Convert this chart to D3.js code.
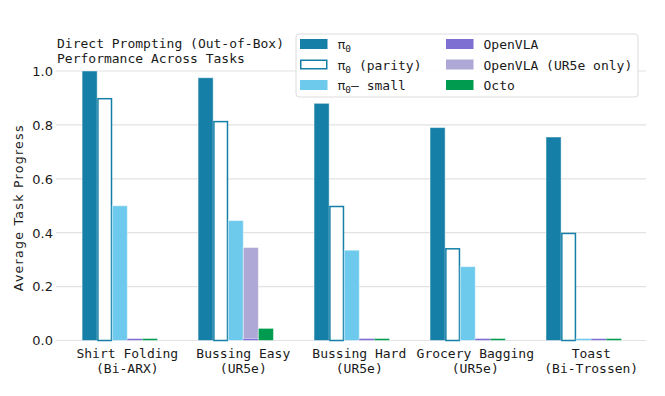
<!DOCTYPE html>
<html>
<head>
<meta charset="utf-8">
<script src="https://cdn.jsdelivr.net/npm/d3@7"></script>
<style>
  body { margin: 0; background: #fff; }
  svg { display: block; }
  .mono { font-family: "DejaVu Sans Mono", monospace; }
  .sans { font-family: "DejaVu Sans", sans-serif; }
</style>
</head>
<body>
<svg id="chart"></svg>
<script>
// Grouped bars: average task progress per task, one bar per policy

const W = 665, H = 396;

const taskNames = ['Shirt Folding', 'Bussing Easy', 'Bussing Hard', 'Grocery Bagging', 'Toast'];
const taskRobots = ['(Bi-ARX)', '(UR5e)', '(UR5e)', '(UR5e)', '(Bi-Trossen)'];

const pi0Vals = [1.0, 0.975, 0.88, 0.79, 0.755];
const pi0ParityVals = [0.90, 0.815, 0.50, 0.343, 0.40];
const pi0SmallVals = [0.50, 0.445, 0.335, 0.274, 0.0];
const openvlaVals = [0.0, 0.0, 0.0, 0.0, 0.0];
const openvlaUr5eVals = [null, 0.345, 0.0, 0.0, null];
const octoVals = [0.0, 0.045, 0.0, 0.0, 0.0];

const yTicks = [0.0, 0.2, 0.4, 0.6, 0.8, 1.0];

// slot = position inside the group (6 slots, last one empty)
const series = [
  { name: 'pi0', label: ['π', '0', ''], values: pi0Vals, slot: 0, fill: '#157fa7', stroke: null },
  { name: 'parity', label: ['π', '0', ' (parity)'], values: pi0ParityVals, slot: 1, fill: '#ffffff', stroke: '#157fa7' },
  { name: 'small', label: ['π', '0', '\u2014 small'], values: pi0SmallVals, slot: 2, fill: '#6ecaed', stroke: null },
  { name: 'openvla_ur5e', label: [null, null, 'OpenVLA (UR5e only)'], values: openvlaUr5eVals, slot: 3, fill: '#aea8d6', stroke: null },
  { name: 'openvla', label: [null, null, 'OpenVLA'], values: openvlaVals, slot: 3, fill: '#7d70d2', stroke: null },
  { name: 'octo', label: [null, null, 'Octo'], values: octoVals, slot: 4, fill: '#009b4e', stroke: null }
];
const legendOrder = ['pi0', 'parity', 'small', 'openvla', 'openvla_ur5e', 'octo'];

const svg = d3.select('#chart').attr('width', W).attr('height', H);

const x = d3.scaleLinear().domain([-0.615, 4.472]).range([56, 646]);
const y = d3.scaleLinear().domain([0, 1]).range([340.5, 71]);
const barW = 0.13;

// grid
svg.append('g').selectAll('line')
  .data(yTicks)
  .enter().append('line')
  .attr('x1', x.range()[0]).attr('x2', x.range()[1])
  .attr('y1', d => y(d)).attr('y2', d => y(d))
  .attr('stroke', '#e2e2e2')
  .attr('stroke-width', 1.2);

// y axis labels
svg.append('g').selectAll('text')
  .data(yTicks)
  .enter().append('text')
  .attr('class', 'sans')
  .attr('x', 53)
  .attr('y', d => y(d) + 4.8)
  .attr('text-anchor', 'end')
  .attr('font-size', 13)
  .attr('fill', '#1a1a1a')
  .text(d => d3.format('.1f')(d));

svg.append('text')
  .attr('class', 'sans')
  .attr('transform', `translate(23,${(y(0) + y(1)) / 2 + 2}) rotate(-90)`)
  .attr('text-anchor', 'middle')
  .attr('font-size', 12.5)
  .attr('letter-spacing', 1.3)
  .attr('fill', '#1a1a1a')
  .text('Average Task Progress');

// bars
series.forEach(s => {
  const g = svg.append('g');
  s.values.forEach((v, i) => {
    if (v === null) return;
    const cx = i + (s.slot - 2.5) * barW;
    const x0 = x(cx - barW / 2), x1 = x(cx + barW / 2);
    let top = y(v);
    if (y(0) - top < 2) top = y(0) - 2;
    if (s.stroke) {
      g.append('rect')
        .attr('x', x0 + 0.75).attr('y', top + 0.75)
        .attr('width', x1 - x0 - 1.5).attr('height', y(0) - top - 0.75)
        .attr('fill', s.fill)
        .attr('stroke', s.stroke)
        .attr('stroke-width', 1.5);
    } else {
      g.append('rect')
        .attr('x', x0).attr('y', top)
        .attr('width', x1 - x0).attr('height', y(0) - top)
        .attr('fill', s.fill)
        .attr('stroke', '#ffffff')
        .attr('stroke-opacity', 0.45)
        .attr('stroke-width', 1);
    }
  });
});

// x labels
const xl = svg.append('g').selectAll('text')
  .data(taskNames)
  .enter().append('text')
  .attr('class', 'mono')
  .attr('text-anchor', 'middle')
  .attr('font-size', 13)
  .attr('fill', '#1a1a1a');
xl.append('tspan').attr('x', (d, i) => x(i)).attr('y', 358).text(d => d);
xl.append('tspan').attr('x', (d, i) => x(i)).attr('y', 373).text((d, i) => taskRobots[i]);

// title
const title = svg.append('text')
  .attr('class', 'mono')
  .attr('font-size', 13)
  .attr('fill', '#1a1a1a');
title.append('tspan').attr('x', 57).attr('y', 48).text('Direct Prompting (Out-of-Box)');
title.append('tspan').attr('x', 57).attr('y', 63).text('Performance Across Tasks');

// legend
const lg = svg.append('g');
lg.append('rect')
  .attr('x', 296).attr('y', 34)
  .attr('width', 342).attr('height', 63)
  .attr('rx', 3)
  .attr('fill', '#ffffff').attr('fill-opacity', 0.9)
  .attr('stroke', '#dcdcdc');

legendOrder.forEach((key, k) => {
  const s = series.find(d => d.name === key);
  const col = Math.floor(k / 3), row = k % 3;
  const sx = col === 0 ? 300 : 446;
  const sy = 39 + row * 20.5;
  if (s.stroke) {
    lg.append('rect').attr('x', sx + 0.75).attr('y', sy + 0.75)
      .attr('width', 26).attr('height', 8.5)
      .attr('fill', s.fill).attr('stroke', s.stroke).attr('stroke-width', 1.5);
  } else {
    lg.append('rect').attr('x', sx).attr('y', sy)
      .attr('width', 27.5).attr('height', 10)
      .attr('fill', s.fill);
  }
  const t = lg.append('text')
    .attr('class', 'mono')
    .attr('x', sx + 37.5).attr('y', sy + 10)
    .attr('font-size', 13)
    .attr('fill', '#1a1a1a');
  if (s.label[0]) {
    t.append('tspan').text(s.label[0]);
    t.append('tspan').attr('font-size', 9.5).attr('dy', 3).text(s.label[1]);
    t.append('tspan').attr('dy', -3).text(s.label[2]);
  } else {
    t.text(s.label[2]);
  }
});
</script>
</body>
</html>
